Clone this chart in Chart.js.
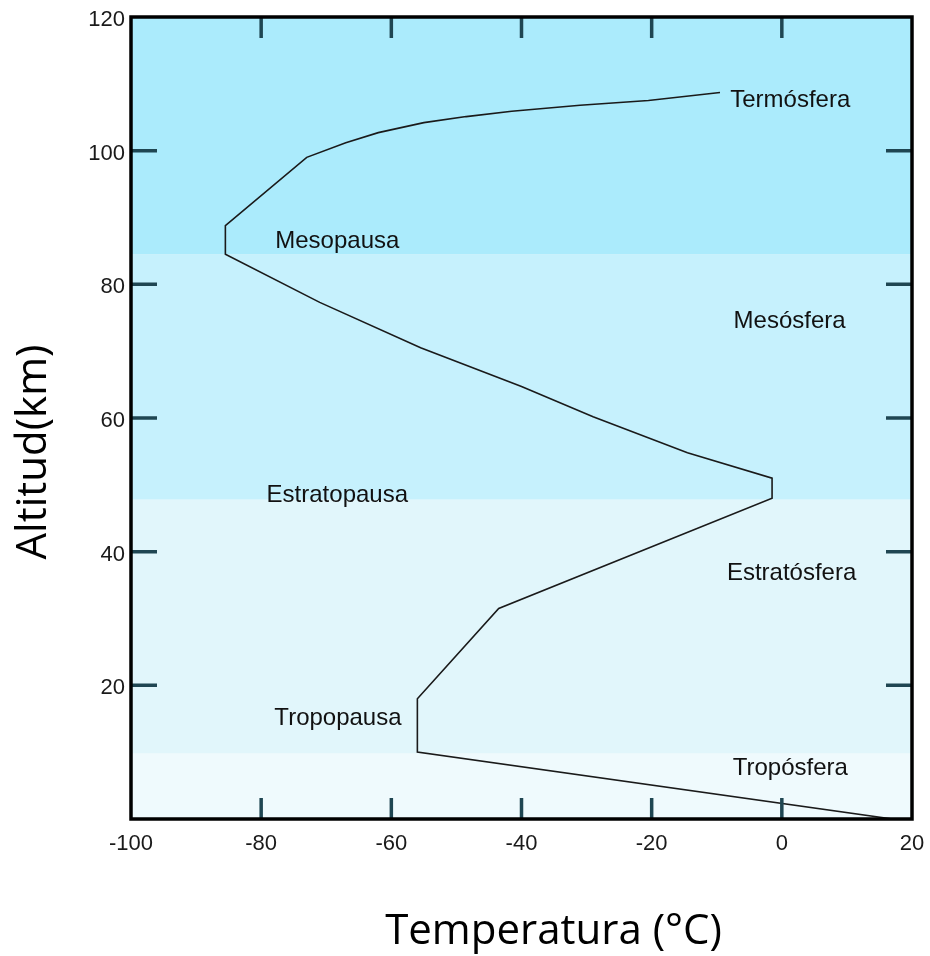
<!DOCTYPE html>
<html>
<head>
<meta charset="utf-8">
<script src="https://cdn.jsdelivr.net/npm/chart.js@4/dist/chart.umd.min.js"></script>
<style>
  html, body { margin: 0; padding: 0; background: #fff; }
  #wrap { width: 930px; height: 956px; }
</style>
</head>
<body>
<div id="wrap"><canvas id="perfil"></canvas></div>
<script>
    // temperatura vs altitud
    const temps = [17, -56, -56, -43.5, -1.5, -1.5, -14.5, -29, -40, -55.5, -71, -85.5, -85.5, -73, -67, -62, -55, -48.5, -41.5, -31, -20.5, -9.5];
    const alts = [0, 10, 18, 31.5, 48, 51, 54.8, 60.2, 64.7, 70.5, 77.3, 84.5, 88.8, 99, 101.2, 102.7, 104.2, 105.1, 105.9, 106.8, 107.5, 108.7];

    // capas (limites en km) y sus colores
    const capaLimites = [0, 9.8, 47.8, 84.5, 120];
    const capaColores = ["#effafd", "#e1f6fb", "#c6f1fd", "#abebfc"];

    // etiquetas dentro del grafico
    const etiquetas = ["Termósfera", "Mesopausa", "Mesósfera", "Estratopausa", "Estratósfera", "Tropopausa", "Tropósfera"];
    const etiquetaX = [1.3, -68.3, 1.2, -68.3, 1.5, -68.2, 1.3];
    const etiquetaY = [107.5, 86.4, 74.4, 48.4, 36.8, 15.1, 7.6];

    const xTicks = [-100, -80, -60, -40, -20, 0, 20];
    const yTicks = [0, 20, 40, 60, 80, 100, 120];

    const puntos = temps.map((t, i) => ({ x: t, y: alts[i] }));

    const capasPlugin = {
      id: "capas",
      beforeDatasetsDraw(chart) {
        const { ctx, chartArea, scales } = chart;
        ctx.save();
        for (let i = 0; i < capaColores.length; i++) {
          const y1 = scales.y.getPixelForValue(capaLimites[i]);
          const y2 = scales.y.getPixelForValue(capaLimites[i + 1]);
          ctx.fillStyle = capaColores[i];
          ctx.fillRect(chartArea.left, y2, chartArea.right - chartArea.left, y1 - y2);
        }
        ctx.restore();
      },
      afterDatasetsDraw(chart) {
        const { ctx, chartArea, scales } = chart;
        ctx.save();
        // textos de las capas
        ctx.font = "24px 'Liberation Sans', Arial, sans-serif";
        ctx.fillStyle = "#111";
        ctx.textAlign = "center";
        ctx.textBaseline = "middle";
        etiquetas.forEach((txt, i) => {
          ctx.fillText(txt, scales.x.getPixelForValue(etiquetaX[i]), scales.y.getPixelForValue(etiquetaY[i]));
        });

        // marcas hacia adentro
        ctx.strokeStyle = "#1f4652";
        ctx.lineWidth = 3.5;
        ctx.beginPath();
        xTicks.slice(1, -1).forEach(v => {
          const px = scales.x.getPixelForValue(v);
          ctx.moveTo(px, chartArea.top);
          ctx.lineTo(px, chartArea.top + 21);
          ctx.moveTo(px, chartArea.bottom);
          ctx.lineTo(px, chartArea.bottom - 21);
        });
        yTicks.slice(1, -1).forEach(v => {
          const py = scales.y.getPixelForValue(v);
          ctx.moveTo(chartArea.left, py);
          ctx.lineTo(chartArea.left + 26, py);
          ctx.moveTo(chartArea.right, py);
          ctx.lineTo(chartArea.right - 26, py);
        });
        ctx.stroke();

        // marco
        ctx.strokeStyle = "#000";
        ctx.lineWidth = 3.5;
        ctx.strokeRect(chartArea.left, chartArea.top, chartArea.right - chartArea.left, chartArea.bottom - chartArea.top);

        // titulos de ejes
        ctx.fillStyle = "#000";
        ctx.font = "42px 'Open Sans', sans-serif";
        ctx.textAlign = "center";
        ctx.textBaseline = "middle";
        ctx.fillText("Temperatura (°C)", (chartArea.left + chartArea.right) / 2 + 32, chartArea.bottom + 113);
        ctx.translate(34, (chartArea.top + chartArea.bottom) / 2 + 34);
        ctx.rotate(-Math.PI / 2);
        ctx.fillText("Altitud(km)", 0, 0);
        ctx.restore();
      }
    };

    const ctx = document.getElementById("perfil").getContext("2d");
    new Chart(ctx, {
      type: "scatter",
      data: {
        datasets: [{
          label: "Temperatura",
          data: puntos,
          showLine: true,
          borderColor: "#1a1a1a",
          borderWidth: 1.6,
          pointRadius: 0,
          tension: 0,
        }]
      },
      options: {
        responsive: true,
        maintainAspectRatio: false,
        animation: false,
        layout: { padding: { top: 17, right: 18, left: 0, bottom: 0 } },
        plugins: {
          legend: { display: false },
          tooltip: { enabled: false }
        },
        scales: {
          x: {
            type: "linear",
            min: -100,
            max: 20,
            grid: { display: false, drawTicks: false },
            border: { display: false },
            afterFit: s => { s.height = 137; s.paddingLeft = 0; s.paddingRight = 0; },
            afterBuildTicks: s => { s.ticks = xTicks.map(v => ({ value: v })); },
            ticks: {
              padding: 12,
              color: "#1a1a1a",
              font: { family: "'Liberation Sans', Arial, sans-serif", size: 22 },
              maxRotation: 0,
              callback: v => String(v)
            }
          },
          y: {
            type: "linear",
            min: 0,
            max: 120,
            grid: { display: false, drawTicks: false },
            border: { display: false },
            afterFit: s => { s.width = 131; s.paddingTop = 0; s.paddingBottom = 0; },
            afterBuildTicks: s => { s.ticks = yTicks.map(v => ({ value: v })); },
            ticks: {
              padding: 6,
              labelOffset: 3,
              color: "#1a1a1a",
              font: { family: "'Liberation Sans', Arial, sans-serif", size: 22 },
              callback: v => v === 0 ? "" : String(v)
            }
          }
        }
      },
      plugins: [capasPlugin]
    });
</script>
</body>
</html>
